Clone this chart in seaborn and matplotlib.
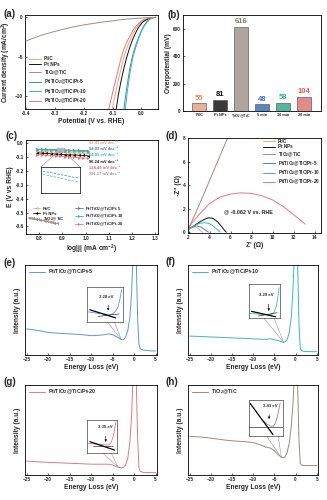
import matplotlib
matplotlib.use("Agg")
import matplotlib.pyplot as plt
import seaborn as sns
from matplotlib.patches import Rectangle

sns.set_style("ticks")
plt.rcParams['font.family'] = ['Liberation Sans', 'DejaVu Sans']
plt.rcParams['font.weight'] = 'bold'
plt.rcParams['axes.labelweight'] = 'bold'
plt.rcParams['mathtext.fontset'] = 'custom'
plt.rcParams['mathtext.rm'] = 'Liberation Sans:bold'
plt.rcParams['mathtext.it'] = 'Liberation Sans:bold'
plt.rcParams['mathtext.bf'] = 'Liberation Sans:bold'
plt.rcParams['mathtext.default'] = 'rm'

# ---------------- data ----------------
names = ["Pt/C", "Pt NPs", "TiO$_2$@TiC", "Pt/TiO$_2$@TiC/Pt-5",
         "Pt/TiO$_2$@TiC/Pt-10", "Pt/TiO$_2$@TiC/Pt-20"]
colors = ["#F4A582", "#111111", "#9E8E86", "#3E86CC", "#3DBE9E", "#EE7480"]

# (a) LSV
lsv_ptc_x = [0.05, 0.03, 0.01, 0.0, -0.01, -0.02, -0.03, -0.04, -0.05, -0.06, -0.07, -0.08, -0.09, -0.10, -0.104]
lsv_ptc_y = [0, -0.08, -0.35, -0.6, -1.0, -1.5, -2.2, -3.0, -3.9, -5.0, -6.4, -8.0, -9.7, -11.5, -12.2]
lsv_ptnp_x = [0.05, 0.03, 0.01, 0.0, -0.01, -0.02, -0.03, -0.04, -0.05, -0.06, -0.07, -0.08, -0.09]
lsv_ptnp_y = [0, -0.1, -0.45, -0.8, -1.3, -2.0, -2.8, -3.8, -5.0, -6.4, -8.0, -9.9, -12.3]
lsv_tio2_x = [-0.4, -0.35, -0.3, -0.25, -0.2, -0.15, -0.1, -0.05, 0.0, 0.05]
lsv_tio2_y = [-3.0, -2.3, -1.78, -1.32, -0.96, -0.68, -0.44, -0.22, -0.08, 0.0]
lsv_pt5_x = [0.05, 0.04, 0.03, 0.02, 0.01, 0.0, -0.01, -0.02, -0.03, -0.04, -0.05, -0.06, -0.062]
lsv_pt5_y = [0, -0.05, -0.2, -0.5, -1.0, -1.7, -2.6, -3.6, -4.8, -6.5, -8.8, -11.5, -12.2]
lsv_pt10_x = [0.05, 0.04, 0.03, 0.02, 0.01, 0.0, -0.01, -0.02, -0.03, -0.04, -0.05, -0.057]
lsv_pt10_y = [0, -0.07, -0.25, -0.6, -1.1, -1.8, -2.8, -3.9, -5.2, -7.2, -9.8, -12.2]
lsv_pt20_x = [0.05, 0.03, 0.01, 0.0, -0.01, -0.02, -0.03, -0.04, -0.05, -0.06, -0.07, -0.08, -0.09, -0.10, -0.115]
lsv_pt20_y = [0, -0.05, -0.25, -0.5, -0.8, -1.2, -1.7, -2.4, -3.1, -4.0, -5.1, -6.6, -8.1, -9.6, -12.0]
lsv_x = [lsv_ptc_x, lsv_ptnp_x, lsv_tio2_x, lsv_pt5_x, lsv_pt10_x, lsv_pt20_x]
lsv_y = [lsv_ptc_y, lsv_ptnp_y, lsv_tio2_y, lsv_pt5_y, lsv_pt10_y, lsv_pt20_y]

# (b) overpotential bars
bar_cats = ["Pt/C", "Pt NPs", "TiO$_2$@TiC", "5 min", "10 min", "20 min"]
bar_vals = [55, 81, 616, 48, 58, 104]
bar_colors = ["#F6A98C", "#3A3A3A", "#B3A39B", "#4A7ED6", "#45C4A2", "#F27C7C"]
bar_label_colors = ["#F08A5C", "#111111", "#8C7B72", "#3A72D0", "#2FB593", "#E85A5A"]

# (c) Tafel
taf_x = [0.79, 0.81, 0.83, 0.85, 0.87, 0.89, 0.91, 0.93, 0.95, 0.97, 0.99, 1.01]
taf_ptc = [-0.058, -0.059, -0.060, -0.062, -0.063, -0.064, -0.065, -0.066, -0.068, -0.069, -0.070, -0.071]
taf_ptnp = [-0.068, -0.070, -0.072, -0.074, -0.076, -0.078, -0.080, -0.082, -0.083, -0.085, -0.087, -0.089]
taf_pt5 = [-0.041, -0.042, -0.043, -0.044, -0.045, -0.046, -0.047, -0.048, -0.049, -0.050, -0.051, -0.052]
taf_pt10 = [-0.045, -0.046, -0.048, -0.049, -0.050, -0.052, -0.053, -0.054, -0.055, -0.057, -0.058, -0.059]
taf_pt20 = [-0.080, -0.082, -0.085, -0.087, -0.090, -0.092, -0.095, -0.097, -0.100, -0.102, -0.105, -0.107]
taf_tio2_x = [0.755, 0.765, 0.775, 0.785, 0.795, 0.805, 0.815, 0.825, 0.835, 0.845, 0.855, 0.865, 0.875]
taf_tio2 = [-0.536, -0.539, -0.542, -0.546, -0.549, -0.553, -0.556, -0.560, -0.563, -0.566, -0.570, -0.573, -0.577]
tafel_slopes = ["62.45", "54.03", "64.05", "96.24", "124.49", "391.17"]
slope_colors = ["#F4A070", "#3E6FCC", "#3DBE9E", "#111111", "#EE5A66", "#9E8E86"]
taf_inset_x = [0.05, 0.95]
taf_inset_blue = [0.84, 0.58]
taf_inset_teal = [0.72, 0.43]

# (d) Nyquist
nyq_ptc_x = [2.0, 2.3, 2.6, 2.9, 3.2, 3.35]
nyq_ptc_y = [0.25, 0.4, 0.45, 0.35, 0.1, 0.0]
nyq_ptnp_x = [2.05, 2.5, 3.0, 3.5, 3.9, 4.3, 4.7, 5.1, 5.4, 5.6]
nyq_ptnp_y = [0.3, 0.55, 0.85, 1.1, 1.24, 1.2, 0.95, 0.55, 0.2, 0.02]
nyq_tio2_x = [2.0, 3.0, 4.0, 5.0, 6.0]
nyq_tio2_y = [0.3, 2.3, 4.4, 6.5, 8.6]
nyq_pt5_x = [2.0, 2.4, 2.8, 3.2, 3.6, 3.9]
nyq_pt5_y = [0.3, 0.48, 0.55, 0.45, 0.2, 0.02]
nyq_pt10_x = [2.05, 2.5, 3.0, 3.5, 4.0, 4.4, 4.8, 5.0]
nyq_pt10_y = [0.3, 0.55, 0.75, 0.83, 0.75, 0.5, 0.2, 0.03]
nyq_pt20_x = [2.0, 2.5, 3.0, 4.0, 5.0, 6.0, 7.0, 8.0, 9.0, 10.0, 11.0, 12.0, 12.7, 13.1]
nyq_pt20_y = [0.4, 1.0, 1.5, 2.45, 3.0, 3.25, 3.35, 3.3, 3.1, 2.75, 2.2, 1.5, 1.0, 0.7]
nyq_x = [nyq_ptc_x, nyq_ptnp_x, nyq_tio2_x, nyq_pt5_x, nyq_pt10_x, nyq_pt20_x]
nyq_y = [nyq_ptc_y, nyq_ptnp_y, nyq_tio2_y, nyq_pt5_y, nyq_pt10_y, nyq_pt20_y]

# (e)-(h) EELS
eels_x = [-25, -22, -20, -17, -15, -12, -10, -8, -7, -6, -5, -4, -3, -2.5, -2, -1.5, -1, -0.6,
          -0.2, 0.2, 0.5, 0.8, 1.1, 1.4, 2, 3, 4, 5]
eels_e = [0.29, 0.27, 0.25, 0.24, 0.235, 0.225, 0.215, 0.22, 0.225, 0.235, 0.225, 0.2, 0.17, 0.17,
          0.2, 0.27, 0.42, 0.7, 1.2, 1.5, 1.0, 0.4, 0.12, 0.07, 0.055, 0.05, 0.045, 0.045]
eels_f = [0.21, 0.205, 0.2, 0.195, 0.19, 0.185, 0.18, 0.175, 0.175, 0.18, 0.17, 0.16, 0.14, 0.145,
          0.17, 0.25, 0.42, 0.75, 1.2, 1.5, 1.0, 0.35, 0.08, 0.05, 0.04, 0.038, 0.037, 0.037]
eels_g = [0.155, 0.145, 0.14, 0.135, 0.13, 0.125, 0.12, 0.12, 0.12, 0.12, 0.11, 0.09, 0.08, 0.085,
          0.11, 0.185, 0.37, 0.67, 1.2, 1.5, 1.0, 0.4, 0.08, 0.04, 0.03, 0.027, 0.026, 0.026]
eels_h = [0.43, 0.42, 0.41, 0.39, 0.38, 0.37, 0.36, 0.33, 0.31, 0.30, 0.27, 0.22, 0.19, 0.20,
          0.25, 0.35, 0.55, 0.8, 1.2, 1.5, 1.0, 0.4, 0.13, 0.11, 0.105, 0.105, 0.105, 0.105]
eels_series = [eels_e, eels_f, eels_g, eels_h]
eels_labels = ["Pt/TiO$_2$@TiC/Pt-5", "Pt/TiO$_2$@TiC/Pt-10", "Pt/TiO$_2$@TiC/Pt-20", "TiO$_2$@TiC"]
eels_colors = ["#5A9AD5", "#3DBE9E", "#E07A82", "#9A8A82"]
gap_texts = ["3.20 eV", "3.29 eV", "3.35 eV", "3.43 eV"]
inset_boxes = [(-10.9, 0.37, -2.7, 0.76), (-11.0, 0.41, -3.6, 0.785),
               (-10.9, 0.24, -4.0, 0.61), (-11.1, 0.43, -3.0, 0.83)]
conn_from = [(-6.3, -4.6), (-7.5, -5.1), (-7.2, -5.3), (-6.8, -4.1)]
conn_to = [(-3.0, 0.17), (-2.8, 0.14), (-3.8, 0.09), (-3.35, 0.19)]
ins_curve_x = [[0.02, 0.3, 0.55, 0.68, 0.78, 0.86, 0.92, 0.97],
               [0.02, 0.3, 0.55, 0.7, 0.8, 0.87, 0.92, 0.96],
               [0.02, 0.3, 0.55, 0.72, 0.8, 0.87, 0.92, 0.96],
               [0.45, 0.55, 0.65, 0.72, 0.78, 0.84, 0.88, 0.92]]
ins_curve_y = [[0.28, 0.24, 0.21, 0.21, 0.27, 0.4, 0.62, 0.9],
               [0.14, 0.12, 0.1, 0.1, 0.17, 0.35, 0.6, 0.9],
               [0.3, 0.28, 0.26, 0.25, 0.32, 0.5, 0.72, 0.95],
               [0.42, 0.33, 0.28, 0.28, 0.36, 0.55, 0.72, 0.92]]
ins_fit1 = [((0.07, 0.8), (0.34, 0.11)), ((0.08, 0.85), (0.2, 0.04)),
            ((0.09, 0.92), (0.35, 0.1)), ((0.05, 0.71), (0.91, 0.05))]
ins_fit2 = [((0.3, 0.9), (0.15, 0.22)), ((0.3, 0.9), (0.06, 0.16)),
            ((0.2, 0.85), (0.22, 0.22)), ((0.0, 1.0), (0.25, 0.25))]
ins_arrow_x = [0.59, 0.63, 0.62, 0.6]
ins_arrow_y = [(0.55, 0.24), (0.5, 0.13), (0.6, 0.26), (0.68, 0.4)]
ins_text_xy = [(0.55, 0.65), (0.55, 0.62), (0.6, 0.72), (0.62, 0.78)]

# ---------------- figure ----------------
W, H = 327, 500
fig = plt.figure(figsize=(W / 100, H / 100), dpi=100)


def add_ax(l, t, r, b):
    return fig.add_axes([l / W, 1 - b / H, (r - l) / W, (b - t) / H])


def style(ax):
    for s in ax.spines.values():
        s.set_linewidth(0.6)
        s.set_color('black')
    ax.tick_params(direction='in', length=1.5, width=0.5, labelsize=3.4, pad=1.5)


LBL = 4.8

# (a)
ax = add_ax(25, 15, 158, 109)
style(ax)
for nm, xs, ys, c in zip(names, lsv_x, lsv_y, colors):
    sns.lineplot(x=xs, y=ys, ax=ax, color=c, lw=0.7, sort=False, estimator=None, label=nm)
ax.set_xlim(-0.405, 0.058)
ax.set_ylim(-11.7, 0.3)
ax.set_xticks([-0.4, -0.3, -0.2, -0.1, 0.0])
ax.set_xticklabels(["-0.4", "-0.3", "-0.2", "-0.1", "0.0"])
ax.set_yticks([0, -5, -10])
ax.set_xlabel("Potential (V vs. RHE)", fontsize=LBL, labelpad=1.5)
ax.set_ylabel("Current density (mA/cm$^2$)", fontsize=LBL, labelpad=1)
ax.legend(loc='upper left', bbox_to_anchor=(0.03, 0.56), frameon=False, fontsize=3.4,
          handlelength=2.6, labelspacing=0.15, handletextpad=0.6, borderaxespad=0,
          borderpad=0)

# (b)
ax = add_ax(183, 15, 321, 111)
style(ax)
sns.barplot(x=bar_cats, y=bar_vals, hue=bar_cats, palette=bar_colors, legend=False, ax=ax,
            width=0.67, edgecolor='#444444', linewidth=0.4)
for i, (v, c) in enumerate(zip(bar_vals, bar_label_colors)):
    ax.text(i, v + 12, str(v), ha='center', va='bottom', fontsize=5.5, color=c, fontweight='bold')
ax.set_xlim(-0.78, 5.8)
ax.set_ylim(0, 700)
ax.set_yticks([0, 200, 400, 600])
ax.tick_params(axis='x', labelsize=2.8)
ax.set_ylabel("Overpotential (mV)", fontsize=LBL, labelpad=1)

# (c)
ax = add_ax(26, 140, 158, 234)
style(ax)
taf_xs = [taf_x, taf_x, taf_tio2_x, taf_x, taf_x, taf_x]
taf_ys = [taf_ptc, taf_ptnp, taf_tio2, taf_pt5, taf_pt10, taf_pt20]
markers = ['<', '<', '<', '>', '>', '>']
for nm, xs, ys, c, m in zip(names, taf_xs, taf_ys, colors, markers):
    sns.lineplot(x=xs, y=ys, ax=ax, color=c, lw=0.6, marker=m, markersize=2.2,
                 markeredgewidth=0, sort=False, estimator=None, label=nm)
ax.set_xlim(0.743, 1.311)
ax.set_ylim(-0.655, 0.025)
ax.set_xticks([0.8, 0.9, 1.0, 1.1, 1.2, 1.3])
ax.set_xticklabels(["0.8", "0.9", "1.0", "1.1", "1.2", "1.3"])
ax.set_yticks([0.0, -0.1, -0.2, -0.3, -0.4, -0.5, -0.6])
ax.set_yticklabels(["0.0", "-0.1", "-0.2", "-0.3", "-0.4", "-0.5", "-0.6"])
ax.set_xlabel("log|j| (mA cm$^{-2}$)", fontsize=LBL, labelpad=1.5)
ax.set_ylabel("E (V vs RHE)", fontsize=LBL, labelpad=1)
for k, (s, c) in enumerate(zip(tafel_slopes, slope_colors)):
    ax.text(1.015, 0.003 - 0.045 * k, s + " mV dec\u207b\u00b9", fontsize=2.9, color=c,
            fontweight='bold', va='center')
ax.legend(loc='lower left', bbox_to_anchor=(0.05, 0.06), ncol=2, frameon=False, fontsize=3.1,
          handlelength=1.8, labelspacing=0.15, handletextpad=0.5, columnspacing=2.6,
          borderaxespad=0, borderpad=0)
ax.add_patch(Rectangle((0.876, -0.065), 0.034, 0.035, facecolor='#B8B8D8', alpha=0.7,
                       edgecolor='#777777', lw=0.3, zorder=5))
ax.plot([0.876, 0.807], [-0.065, -0.17], color='#777777', lw=0.35)
ax.plot([0.91, 0.975], [-0.065, -0.17], color='#777777', lw=0.35)
ins = ax.inset_axes([0.807, -0.36, 0.168, 0.19], transform=ax.transData)
sns.lineplot(x=taf_inset_x, y=taf_inset_blue, ax=ins, color="#3E86CC", lw=0.5,
             linestyle='--', estimator=None)
sns.lineplot(x=taf_inset_x, y=taf_inset_teal, ax=ins, color="#3DBE9E", lw=0.5,
             linestyle='--', estimator=None)
ins.set_xlim(0, 1)
ins.set_ylim(0, 1)
ins.set_xticks([])
ins.set_yticks([])
for s in ins.spines.values():
    s.set_linewidth(0.6)

# (d)
ax = add_ax(188, 138, 321, 233)
style(ax)
for nm, xs, ys, c in zip(names, nyq_x, nyq_y, colors):
    sns.lineplot(x=xs, y=ys, ax=ax, color=c, lw=0.7, sort=False, estimator=None, label=nm)
ax.set_xlim(1.95, 14.6)
ax.set_ylim(-0.05, 8)
ax.set_xticks([2, 4, 6, 8, 10, 12, 14])
ax.set_yticks([0, 2, 4, 6, 8])
ax.set_xlabel("Z' (Ω)", fontsize=LBL, labelpad=1.5)
ax.set_ylabel("-Z'' (Ω)", fontsize=LBL, labelpad=1)
ax.text(5.4, 1.75, "@ -0.062 V vs. RHE", fontsize=3.9, fontweight='bold', va='center')
ax.legend(loc='upper right', bbox_to_anchor=(0.99, 0.99), frameon=False, fontsize=3.3,
          handlelength=2.6, labelspacing=0.1, handletextpad=0.6, borderaxespad=0,
          borderpad=0)

# (e)-(h)
eels_boxes_px = [(25, 265, 157, 355), (188, 265, 318, 355), (25, 385, 157, 475), (188, 385, 318, 475)]
for k in range(4):
    ax = add_ax(*eels_boxes_px[k])
    style(ax)
    sns.lineplot(x=eels_x, y=eels_series[k], ax=ax, color=eels_colors[k], lw=0.7,
                 sort=False, estimator=None, label=eels_labels[k])
    ax.set_xlim(-25.4, 5.3)
    ax.set_ylim(0, 1)
    ax.set_xticks([-25, -20, -15, -10, -5, 0, 5])
    ax.set_yticks([])
    ax.set_xlabel("Energy Loss (eV)", fontsize=LBL, labelpad=1.5)
    ax.set_ylabel("Intensity (a.u.)", fontsize=LBL, labelpad=3)
    ax.legend(loc='upper left', bbox_to_anchor=(0.03, 0.97), frameon=False, fontsize=3.9,
              handlelength=3.0, handletextpad=0.6, borderaxespad=0, borderpad=0)
    x0, y0, x1, y1 = inset_boxes[k]
    ins = ax.inset_axes([x0, y0, x1 - x0, y1 - y0], transform=ax.transData)
    sns.lineplot(x=ins_curve_x[k], y=ins_curve_y[k], ax=ins, color=eels_colors[k], lw=0.6,
                 sort=False, estimator=None)
    fx, fy = ins_fit1[k]
    sns.lineplot(x=list(fx), y=list(fy), ax=ins, color='black', lw=0.9, estimator=None)
    gx, gy = ins_fit2[k]
    sns.lineplot(x=list(gx), y=list(gy), ax=ins, color='black', lw=0.4, estimator=None)
    ay = ins_arrow_y[k]
    ins.annotate('', xy=(ins_arrow_x[k], ay[1]), xytext=(ins_arrow_x[k], ay[0]),
                 arrowprops=dict(arrowstyle='-|>', lw=0.4, color='black', mutation_scale=3))
    ins.text(ins_text_xy[k][0], ins_text_xy[k][1], gap_texts[k], fontsize=3.1,
             fontweight='bold', ha='center', va='bottom')
    ins.set_xlim(0, 1)
    ins.set_ylim(0, 1)
    ins.set_xticks([])
    ins.set_yticks([])
    for s in ins.spines.values():
        s.set_linewidth(0.5)
        s.set_color('#444444')
    cx, cy = conn_to[k]
    for fxp in conn_from[k]:
        ax.plot([fxp, cx], [y0, cy], color='#888888', lw=0.35)

# panel labels
panel_pos = [("(a)", 3, 9), ("(b)", 167, 10), ("(c)", 5, 131), ("(d)", 166, 131),
             ("(e)", 3, 258), ("(f)", 166, 257), ("(g)", 3, 377), ("(h)", 166, 377)]
for t, x, y in panel_pos:
    fig.text(x / W, 1 - y / H, t, fontsize=7, fontweight='bold', va='top', ha='left')

fig.savefig("out.png", dpi=100)
